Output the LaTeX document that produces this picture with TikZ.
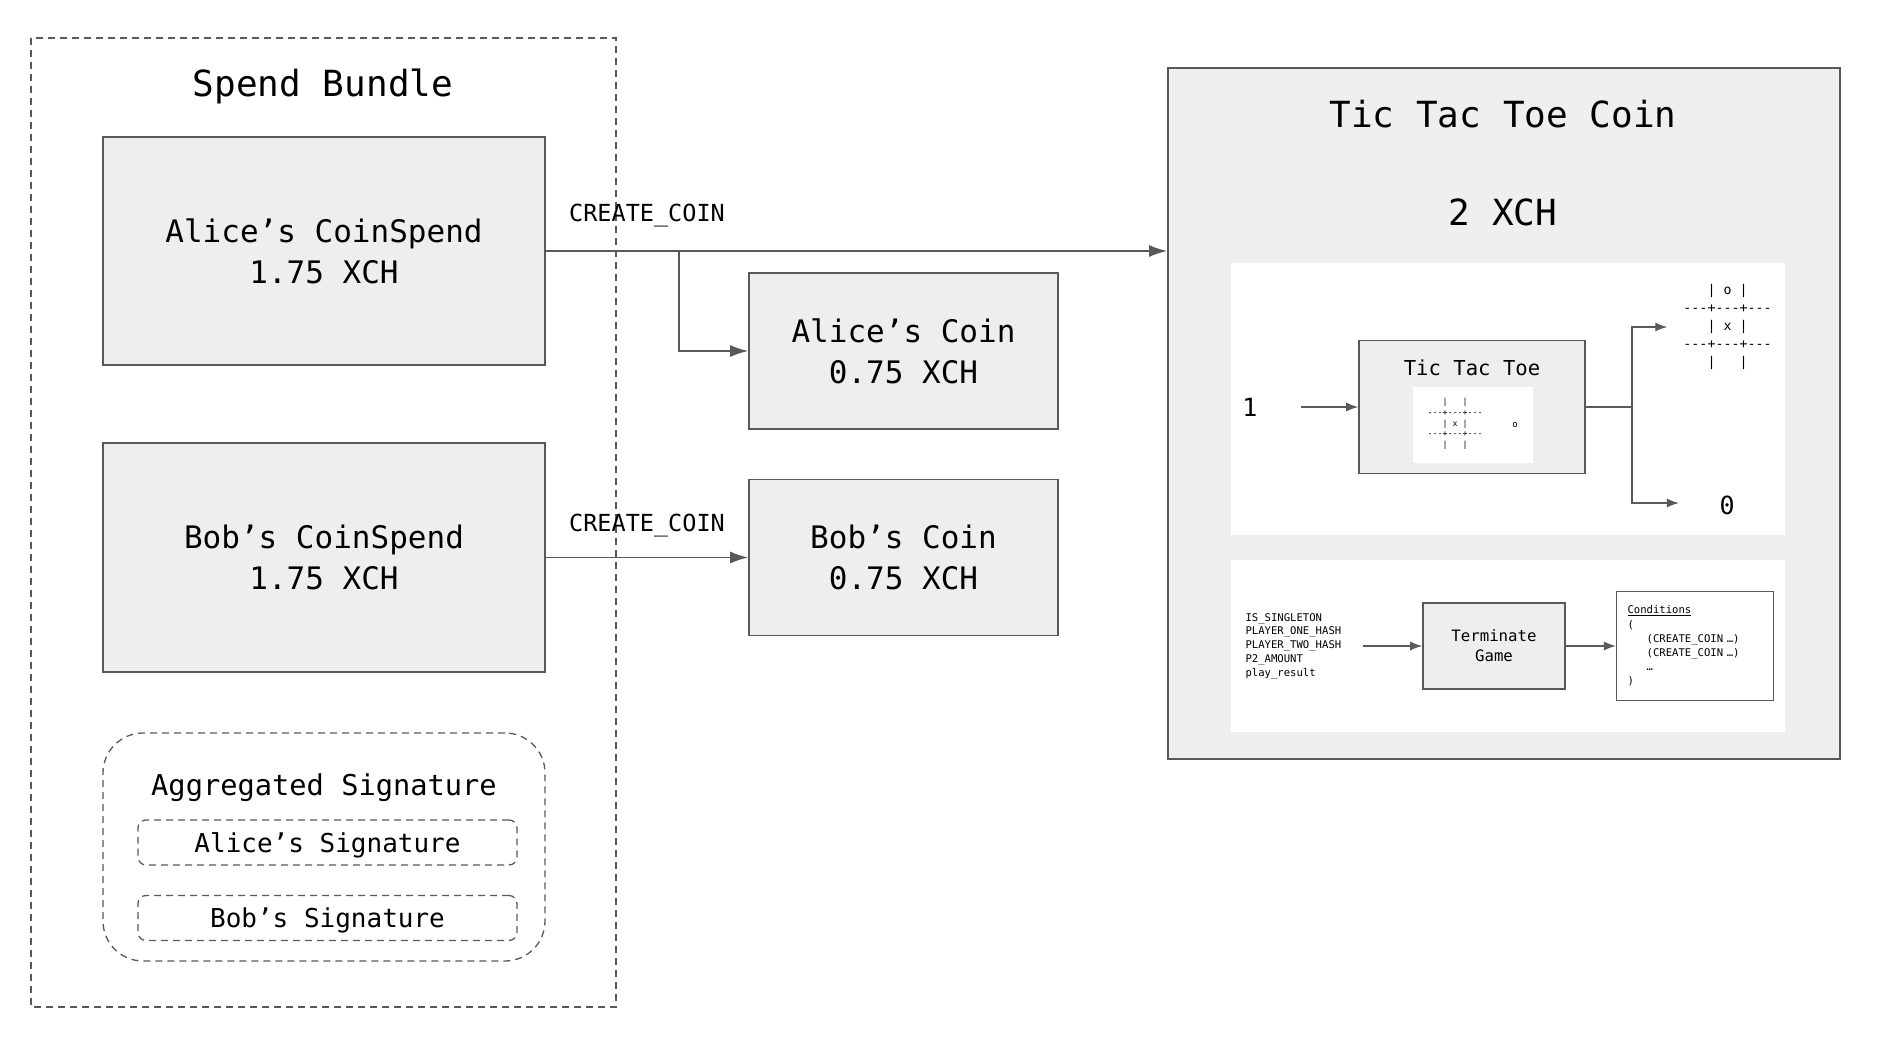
\documentclass[tikz,border=0pt]{standalone}
\usepackage{fontspec}
\setmonofont{DejaVu Sans Mono}
\renewcommand{\familydefault}{\ttdefault}
\usetikzlibrary{arrows.meta,positioning}
\definecolor{linegray}{HTML}{595959}
\definecolor{boxfill}{HTML}{EEEEEE}
\definecolor{coinfill}{HTML}{EFEFEF}

\begin{document}
\begin{tikzpicture}[x=1pt,y=-1pt,
    box/.style={draw=linegray, line width=1.6pt, fill=boxfill, align=center, inner sep=0pt},
    dashbox/.style={draw=linegray, line width=1.3pt, dash pattern=on 7pt off 5pt, inner sep=0pt},
    panel/.style={fill=white, inner sep=0pt},
    arr/.style={draw=linegray, line width=1.6pt, -{Latex[length=18pt,width=12pt]}},
    smallarr/.style={draw=linegray, line width=1.3pt, -{Latex[length=12pt,width=9pt]}},
    titletext/.style={font=\fontsize{36}{44}\selectfont},
    boxtext/.style={font=\fontsize{31}{41}\selectfont},
    labeltext/.style={font=\fontsize{23.5}{28}\selectfont},
    sigtext/.style={font=\fontsize{26}{31}\selectfont, text depth=0pt},
    tinytext/.style={font=\fontsize{10.6}{13.8}\selectfont, align=left}]
  \useasboundingbox (0,0) rectangle (1878,1046);

  \draw[dashbox] (31,38) rectangle (616,1007);
  \node[titletext] (bundle) at (323,86) {Spend Bundle};
  \node[box, boxtext, minimum width=442pt, minimum height=228pt] (alicespend) at (324,251) {Alice’s CoinSpend\\1.75 XCH};
  \node[box, boxtext, minimum width=442pt, minimum height=229pt] (bobspend) at (324,557.5) {Bob’s CoinSpend\\1.75 XCH};
  \node[dashbox, rounded corners=40pt, minimum width=442pt, minimum height=228pt] (aggsig) at (324,847) {};
  \node[font=\fontsize{28.7}{34}\selectfont] (aggtitle) at (324,788) {Aggregated Signature};
  \node[dashbox, sigtext, rounded corners=8pt, minimum width=379pt, minimum height=45pt] (alicesig) at (327.5,842.5) {Alice’s Signature};
  \node[dashbox, sigtext, rounded corners=8pt, minimum width=379pt, minimum height=45pt] (bobsig) at (327.5,918) {Bob’s Signature};

  \node[box, boxtext, minimum width=309pt, minimum height=156pt] (alicecoin) at (903.5,351) {Alice’s Coin\\0.75 XCH};
  \node[box, boxtext, minimum width=309pt, minimum height=156pt] (bobcoin) at (903.5,557.5) {Bob’s Coin\\0.75 XCH};

  \node[box, fill=coinfill, minimum width=672pt, minimum height=691pt] (ttcoin) at (1504,413.5) {};
  \node[titletext] (cointitle) at (1503,114) {Tic Tac Toe Coin};
  \node[titletext] (coinamount) at (1503,212) {2 XCH};
  \node[panel, minimum width=554pt, minimum height=272pt] (puzzle) at (1508,399) {};
  \node[panel, minimum width=554pt, minimum height=172pt] (solution) at (1508,646) {};

  \coordinate (split) at (679,252);
  \draw[arr] (alicespend.east) -- (alicespend.east -| ttcoin.west);
  \draw[arr] (split) |- (alicecoin.west);
  \draw[arr] (bobspend.east) -- (bobcoin.west);
  \node[labeltext] (alicecreate) at (647,215.5) {CREATE\_COIN};
  \node[labeltext] (bobcreate) at (647,525.5) {CREATE\_COIN};

  \node[font=\fontsize{25}{30}\selectfont] (one) at (1250,407) {1};
  \node[box, minimum width=226pt, minimum height=133pt] (ttt) at (1472,407) {};
  \node[font=\fontsize{20.6}{25}\selectfont] (ttttitle) at (1472,368) {Tic Tac Toe};
  \node[panel, minimum width=120pt, minimum height=76pt] (tttboard) at (1473,425) {};
  \node[font=\fontsize{8.3}{10.8}\selectfont, align=left, inner sep=0pt] (smallboard) at (1455,424)
    {\phantom{---}|~~~|\\---+---+---\\\phantom{---}|~x~|\\---+---+---\\\phantom{---}|~~~|};
  \node[font=\fontsize{9}{11}\selectfont] (nextmark) at (1515,425) {o};
  \node[font=\fontsize{13.3}{18}\selectfont, align=left, inner sep=0pt] (bigboard) at (1727.5,327)
    {\phantom{---}|~o~|\\---+---+---\\\phantom{---}|~x~|\\---+---+---\\\phantom{---}|~~~|};
  \node[font=\fontsize{25}{30}\selectfont] (zero) at (1727,505) {0};
  \coordinate (fork) at (1632,407);
  \draw[smallarr] ([xshift=40pt]one.east) -- (ttt.west);
  \draw[draw=linegray, line width=1.3pt] (ttt.east) -- (fork);
  \draw[smallarr] (fork) |- ([xshift=-16pt]bigboard.west);
  \draw[smallarr] (fork) |- ([xshift=-37pt,yshift=2pt]zero.west);

  \node[tinytext, anchor=west] (args) at (1242,646)
    {IS\_SINGLETON\\PLAYER\_ONE\_HASH\\PLAYER\_TWO\_HASH\\P2\_AMOUNT\\play\_result};
  \node[box, font=\fontsize{15.7}{20}\selectfont, minimum width=142pt, minimum height=86pt] (terminate) at (1494,646) {Terminate\\Game};
  \node[draw=linegray, line width=1.2pt, fill=white, font=\fontsize{10.6}{14.2}\selectfont, align=left,
    text width=135pt, inner xsep=11pt, minimum height=109pt] (conds) at (1695,646)
    {\underline{Conditions}\\(\\\phantom{---}(CREATE\_COIN …)\\\phantom{---}(CREATE\_COIN …)\\\phantom{---}…\\)};
  \draw[smallarr] ([xshift=18pt]args.east) -- (terminate.west);
  \draw[smallarr] (terminate.east) -- (conds.west);
\end{tikzpicture}
\end{document}
